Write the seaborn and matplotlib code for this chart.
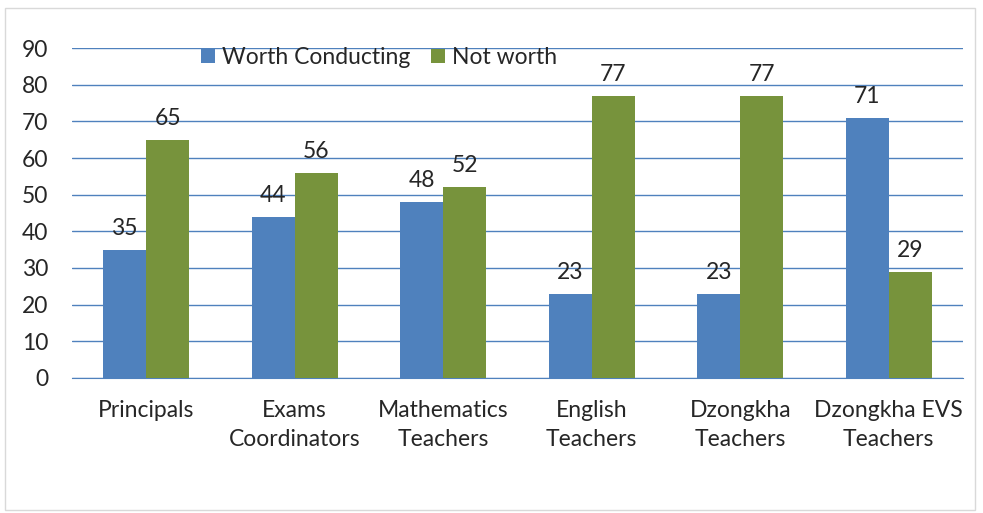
import pandas as pd
import matplotlib.pyplot as plt
import seaborn as sns
from matplotlib.patches import Rectangle

# data
groups = ['Principals', 'Exams\nCoordinators', 'Mathematics\nTeachers',
          'English\nTeachers', 'Dzongkha\nTeachers', 'Dzongkha EVS\nTeachers']
worth = [35, 44, 48, 23, 23, 71]
not_worth = [65, 56, 52, 77, 77, 29]
series = ['Worth Conducting', 'Not worth']

df = pd.DataFrame({'Group': groups * 2,
                   'Response': [series[0]] * len(groups) + [series[1]] * len(groups),
                   'Percent': worth + not_worth})

sns.set_style('white')
plt.rcParams['font.family'] = ['Lato', 'DejaVu Sans']
fs = 16.5

fig = plt.figure(figsize=(9.83, 5.13), dpi=100)
ax = fig.add_axes([0.0732, 0.2632, 0.9065, 0.6432])

sns.barplot(data=df, x='Group', y='Percent', hue='Response',
            palette=['#4F81BD', '#77933C'], width=0.58, saturation=1,
            linewidth=0, ax=ax, zorder=3)

for c in ax.containers:
    ax.bar_label(c, padding=8, fontsize=fs)

ax.set_ylim(0, 90)
ax.set_yticks(range(0, 91, 10))
ax.set_xlim(-0.5, len(groups) - 0.5)
ax.grid(axis='y', color='#4F81BD', linewidth=1, zorder=0)
ax.set_axisbelow(True)
for s in ['left', 'right', 'top']:
    ax.spines[s].set_visible(False)
ax.spines['bottom'].set_color('#4F81BD')
ax.tick_params(axis='y', length=0, pad=17, labelsize=fs)
ax.tick_params(axis='x', length=0, pad=16, labelsize=fs)
for t in ax.get_xticklabels():
    t.set_linespacing(1.45)
ax.set_xlabel('')
ax.set_ylabel('')

ax.legend(loc='upper left', bbox_to_anchor=(0.122, 1.065), ncol=2, frameon=False,
          fontsize=fs, handlelength=0.6, handleheight=0.6, handletextpad=0.3,
          columnspacing=0.9)

# light frame around the chart
fig.patches.append(Rectangle((5 / 983, 3 / 513), 970 / 983, 502 / 513,
                             transform=fig.transFigure, fill=False,
                             edgecolor='#D9D9D9', linewidth=1))

fig.savefig('out.png', dpi=100)
